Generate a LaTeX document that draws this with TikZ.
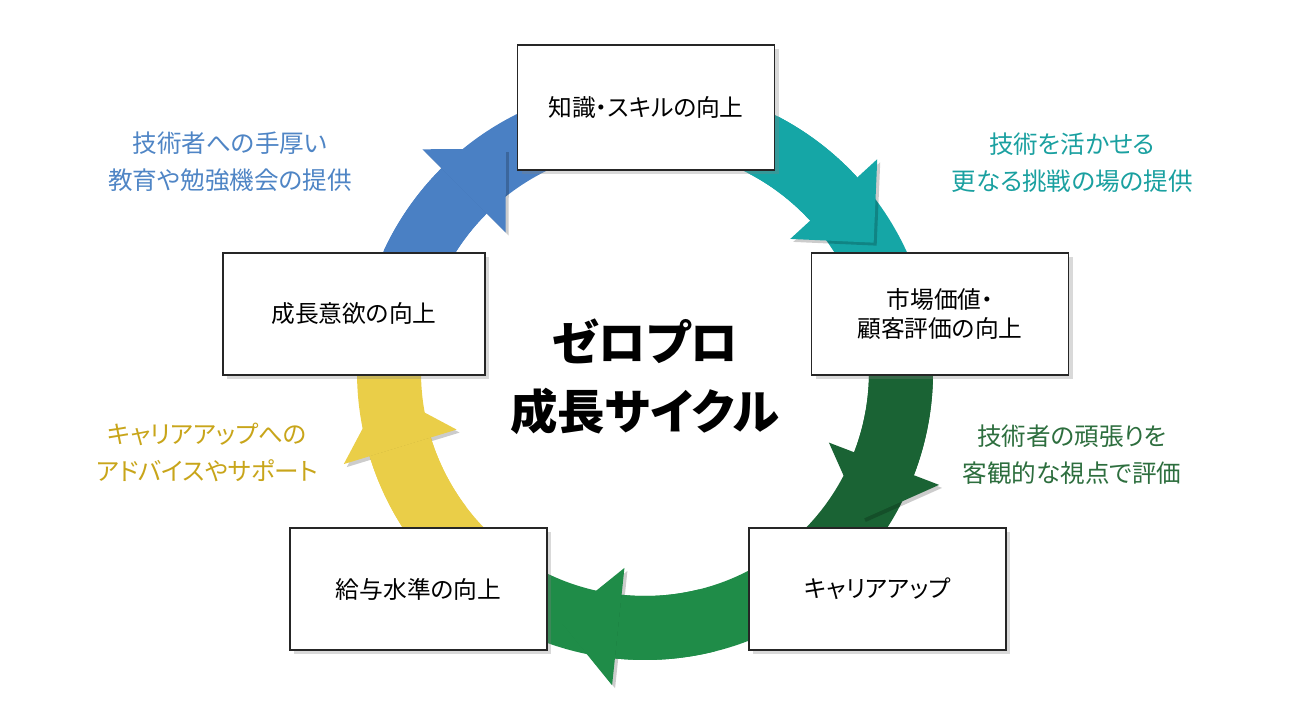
\documentclass[tikz,border=0pt]{standalone}
\usepackage{fontspec}
\setmainfont{Noto Sans CJK JP}[RawFeature=+palt]
\usetikzlibrary{positioning,shadows}

\definecolor{ringblue}{HTML}{4A80C4}
\definecolor{ringteal}{HTML}{15A6A6}
\definecolor{ringdark}{HTML}{1A6334}
\definecolor{ringgreen}{HTML}{1F8C48}
\definecolor{ringyellow}{HTML}{EACE48}
\definecolor{txtblue}{HTML}{4F85C5}
\definecolor{txtteal}{HTML}{1AA0A0}
\definecolor{txtdark}{HTML}{2D6E3E}
\definecolor{txtyellow}{HTML}{C8A51A}

\tikzset{
  stepbox/.style={draw=black!85, line width=0.7pt, fill=white,
    minimum width=5.14cm, minimum height=2.44cm, align=center,
    font=\fontsize{13.5}{17}\selectfont,
    drop shadow={shadow xshift=2.5pt, shadow yshift=-2.5pt, opacity=0.3}},
  note/.style={align=center, font=\fontsize{14}{21}\selectfont},
}

% one coloured part of the ring: colour, from angle, to angle
\newcommand\ringpart[3]{%
  \fill[#1] (#2:288) arc[start angle=#2, end angle=#3, radius=288]
    -- (#3:224) arc[start angle=#3, end angle=#2, radius=224] -- cycle;}
% arrow head on the ring: colour, angle
\newcommand\ringhead[2]{%
  \fill[black, opacity=0.2, shift={(3,-3)}] (#2:197) -- (#2-13:262.7) -- (#2:315) -- cycle;
  \ringpart{#1}{#2+20}{#2}
  \fill[#1] (#2:197) -- (#2-13:262.7) -- (#2:315) -- cycle;}

\begin{document}
\begin{tikzpicture}[x=0.02cm, y=0.02cm]
    \useasboundingbox (0,0) rectangle (1290,720);

    % Ring with arrows
    \begin{scope}[shift={(645,348)}]
        \ringpart{ringblue}{167}{90}
        \ringpart{ringteal}{90}{13}
        \ringpart{ringdark}{13}{-50}
        \ringpart{ringgreen}{-50}{-130}
        \ringpart{ringyellow}{-130}{-193}
        \ringhead{ringblue}{135}
        \ringhead{ringteal}{42.5}
        \ringhead{ringdark}{-21}
        \ringhead{ringgreen}{-96}
        \ringhead{ringyellow}{-163}
    \end{scope}

    % Steps of the cycle
    \node[stepbox, minimum height=2.5cm] (skill) at (646,612.5) {知識・スキルの向上};
    \node[stepbox] (market) at (940,406) {市場価値・\\顧客評価の向上};
    \node[stepbox] (career) at (877.5,131) {キャリアアップ};
    \node[stepbox] (salary) at (418.5,131) {給与水準の向上};
    \node[stepbox, minimum width=5.24cm] (motive) at (354,406) {成長意欲の向上};

    % Title
    \node[align=center, font=\bfseries\fontsize{27}{39}\selectfont] (title) at (645,343) {ゼロプロ\\成長サイクル};

    % Notes
    \node[note, text=txtblue] (notea) at (230,558) {技術者への手厚い\\教育や勉強機会の提供};
    \node[note, text=txtteal] (noteb) at (1072,557) {技術を活かせる\\更なる挑戦の場の提供};
    \node[note, text=txtdark] (notec) at (1072,265.5) {技術者の頑張りを\\客観的な視点で評価};
    \node[note, text=txtyellow] (noted) at (207,267.5) {キャリアアップへの\\アドバイスやサポート};
\end{tikzpicture}
\end{document}
